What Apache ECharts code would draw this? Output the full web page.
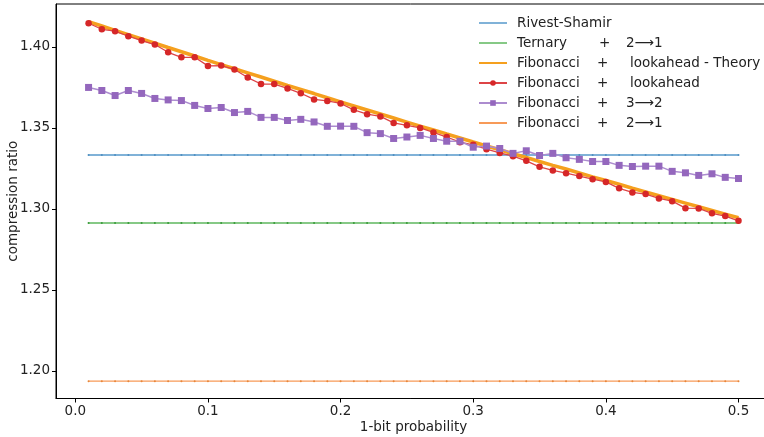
<!DOCTYPE html>
<html>
<head>
<meta charset="utf-8">
<script src="https://cdn.jsdelivr.net/npm/echarts@6/dist/echarts.min.js"></script>
<style>
html,body{margin:0;padding:0;background:#fff;}
#c{width:764px;height:437px;}
</style>
</head>
<body>
<div id="c"></div>
<script>
// ---- data ----
const probs = [0.01,0.02,0.03,0.04,0.05,0.06,0.07,0.08,0.09,0.10,
  0.11,0.12,0.13,0.14,0.15,0.16,0.17,0.18,0.19,0.20,
  0.21,0.22,0.23,0.24,0.25,0.26,0.27,0.28,0.29,0.30,
  0.31,0.32,0.33,0.34,0.35,0.36,0.37,0.38,0.39,0.40,
  0.41,0.42,0.43,0.44,0.45,0.46,0.47,0.48,0.49,0.50];

const rivestShamir = 1.3333;
const ternary21 = 1.2913;
const fib21 = 1.1937;

const fibLookaheadTheory = [1.4156,1.4129,1.4102,1.4076,1.4049,1.4023,1.3996,1.3970,1.3944,1.3917,
  1.3891,1.3865,1.3840,1.3814,1.3788,1.3762,1.3737,1.3712,1.3686,1.3661,
  1.3636,1.3611,1.3586,1.3561,1.3536,1.3511,1.3487,1.3462,1.3438,1.3413,
  1.3389,1.3365,1.3341,1.3317,1.3293,1.3269,1.3246,1.3222,1.3198,1.3175,
  1.3152,1.3128,1.3105,1.3082,1.3059,1.3036,1.3013,1.2991,1.2968,1.2946];

const fibLookahead = [1.4146,1.4109,1.4097,1.4066,1.4039,1.4015,1.3967,1.3936,1.3936,1.3883,
  1.3885,1.3861,1.3811,1.3771,1.3771,1.3744,1.3714,1.3676,1.3667,1.3651,
  1.3612,1.3585,1.3571,1.3531,1.3516,1.3500,1.3472,1.3444,1.3412,1.3396,
  1.3369,1.3346,1.3326,1.3297,1.3260,1.3238,1.3221,1.3203,1.3184,1.3167,
  1.3127,1.3102,1.3092,1.3065,1.3048,1.3005,1.3003,1.2973,1.2956,1.2927];

const fib32 = [1.3750,1.3731,1.3700,1.3731,1.3713,1.3682,1.3673,1.3669,1.3639,1.3620,
  1.3626,1.3595,1.3602,1.3565,1.3565,1.3546,1.3553,1.3537,1.3510,1.3511,
  1.3510,1.3471,1.3465,1.3435,1.3444,1.3454,1.3435,1.3418,1.3418,1.3381,
  1.3388,1.3373,1.3343,1.3359,1.3330,1.3343,1.3316,1.3306,1.3293,1.3293,
  1.3269,1.3262,1.3264,1.3264,1.3232,1.3223,1.3207,1.3217,1.3195,1.3188];

const xTicks = [0.0,0.1,0.2,0.3,0.4,0.5];
const yTicks = [1.20,1.25,1.30,1.35,1.40];

const names = ['Rivest-Shamir','Ternary + 2⟶1','Fibonacci + lookahead - Theory',
  'Fibonacci + lookahead','Fibonacci + 3⟶2','Fibonacci + 2⟶1'];
const legendRich = {
  'Rivest-Shamir': '{a|Rivest-Shamir}',
  'Ternary + 2⟶1': '{a|Ternary}{t|+}{c|2⟶1}',
  'Fibonacci + lookahead - Theory': '{a|Fibonacci}{b|+}{d|lookahead - Theory}',
  'Fibonacci + lookahead': '{a|Fibonacci}{b|+}{d|lookahead}',
  'Fibonacci + 3⟶2': '{a|Fibonacci}{b|+}{c|3⟶2}',
  'Fibonacci + 2⟶1': '{a|Fibonacci}{b|+}{c|2⟶1}'
};
const noMarker = {color:'rgba(0,0,0,0)', borderColor:'rgba(0,0,0,0)', opacity:0};

const pair = arr => probs.map((p,i)=>[p, arr[i]]);
const flat = v => probs.map(p=>[p, v]);

const FONT = 'DejaVu Sans';
const TXT = '#222';
const chart = echarts.init(document.getElementById('c'), null, {renderer:'canvas'});
chart.setOption({
  animation:false,
  backgroundColor:'#fff',
  grid:{left:56, right:-7, top:4, bottom:38.5, outerBoundsMode:'none', containLabel:false,
    show:true, borderColor:'#000', borderWidth:1, backgroundColor:'transparent'},
  legend:{
    orient:'vertical', left:473, top:11, itemWidth:28, itemHeight:7, itemGap:6,
    data:[
      {name:names[0], itemStyle:noMarker},
      {name:names[1], itemStyle:noMarker},
      {name:names[2], itemStyle:noMarker},
      {name:names[3]},
      {name:names[4]},
      {name:names[5], itemStyle:noMarker}
    ],
    formatter: n => legendRich[n],
    textStyle:{fontFamily:FONT, fontSize:13.5, color:TXT,
      rich:{
        a:{fontFamily:FONT,fontSize:13.5,color:TXT,width:80,padding:[0,0,0,5]},
        b:{fontFamily:FONT,fontSize:13.5,color:TXT,width:29},
        t:{fontFamily:FONT,fontSize:13.5,color:TXT,width:27,padding:[0,0,0,2]},
        c:{fontFamily:FONT,fontSize:13.5,color:TXT},
        d:{fontFamily:FONT,fontSize:13.5,color:TXT,padding:[0,0,0,4]}
      }}
  },
  xAxis:{
    type:'value', min:-0.01455, max:0.5245,
    name:'1-bit probability', nameLocation:'middle', nameGap:22, nameMoveOverlap:false,
    nameTextStyle:{fontFamily:FONT,fontSize:13.5,color:TXT},
    axisLine:{show:true,onZero:false,lineStyle:{color:'#000',width:1}},
    axisTick:{show:true,length:4,lineStyle:{color:'#000'},customValues:xTicks},
    axisLabel:{fontFamily:FONT,fontSize:13.5,color:TXT,margin:6,customValues:xTicks,
      formatter:v=>v.toFixed(1)},
    splitLine:{show:false}
  },
  yAxis:{
    type:'value', min:1.1830, max:1.4265,
    name:'compression ratio', nameLocation:'middle', nameGap:36, nameMoveOverlap:false,
    nameTextStyle:{fontFamily:FONT,fontSize:13.5,color:TXT},
    axisLine:{show:true,onZero:false,lineStyle:{color:'#000',width:1}},
    axisTick:{show:true,length:4,lineStyle:{color:'#000'},customValues:yTicks},
    axisLabel:{fontFamily:FONT,fontSize:13.5,color:TXT,margin:6,customValues:yTicks,
      formatter:v=>v.toFixed(2)},
    splitLine:{show:false}
  },
  series:[
    {name:names[0], type:'line', data:flat(rivestShamir), symbol:'circle', symbolSize:2,
      itemStyle:{color:'#4f8fc0'}, lineStyle:{color:'#80b2d8', width:2}, z:2},
    {name:names[1], type:'line', data:flat(ternary21), symbol:'circle', symbolSize:2,
      itemStyle:{color:'#3a9a3a'}, lineStyle:{color:'#86c986', width:2}, z:2},
    {name:names[2], type:'line', data:pair(fibLookaheadTheory), symbol:'none', showSymbol:false,
      itemStyle:{color:'#f5a01e'}, lineStyle:{color:'#f5a01e', width:3.6}, z:3},
    {name:names[3], type:'line', data:pair(fibLookahead), symbol:'circle', symbolSize:6.5,
      itemStyle:{color:'#d62728'}, lineStyle:{color:'#dd4446', width:1.3}, z:4},
    {name:names[4], type:'line', data:pair(fib32), symbol:'rect', symbolSize:7,
      itemStyle:{color:'#9467bd'}, lineStyle:{color:'#ac8ccf', width:1.5}, z:4},
    {name:names[5], type:'line', data:flat(fib21), symbol:'circle', symbolSize:2,
      itemStyle:{color:'#e8873a'}, lineStyle:{color:'#f79a58', width:1.3}, z:2}
  ]
});
</script>
</body>
</html>
